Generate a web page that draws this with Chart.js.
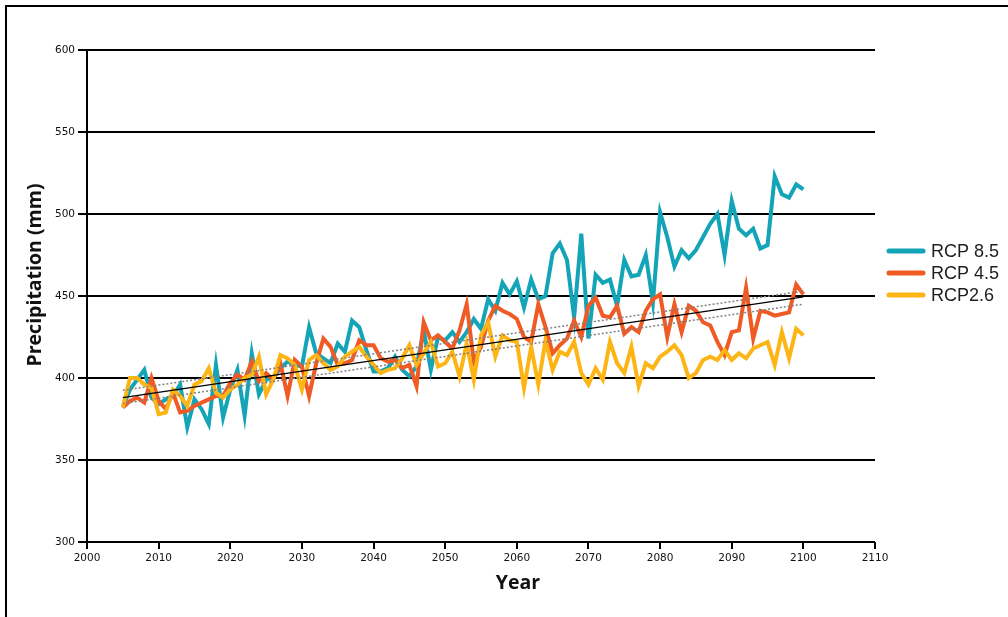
<!DOCTYPE html>
<html>
<head>
<meta charset="utf-8">
<title>Precipitation projections</title>
<script src="https://cdn.jsdelivr.net/npm/chart.js@4.4.1/dist/chart.umd.min.js"></script>
<style>
  html, body { margin: 0; padding: 0; background: #fff; }
  #wrap { position: relative; width: 1008px; height: 617px; overflow: hidden; }
  #wrap canvas { position: absolute; left: 0; top: 0; }
  #frame { position: absolute; left: 5px; top: 5px; width: 1200px; height: 800px;
           border-left: 2.5px solid #000; border-top: 2.5px solid #000; pointer-events: none; }
</style>
</head>
<body>
<div id="wrap">
  <canvas id="chart" width="1008" height="617"></canvas>
  <div id="frame"></div>
</div>
<script>
// Annual precipitation (mm), 2005-2100
const startYear = 2005;

const rcp85 = [
  382, 393, 399, 405, 388, 384, 387, 389, 396, 370,
  387, 381, 372, 408, 376, 393, 405, 377, 415, 390,
  399, 400, 406, 410, 408, 407, 431, 415, 412, 409,
  421, 416, 435, 431, 417, 404, 404, 406, 413, 405,
  401, 407, 429, 405, 425, 423, 428, 422, 428, 436,
  430, 448, 441, 458, 451, 459, 443, 460, 448, 450,
  476, 482, 472, 437, 488, 424, 463, 458, 460, 444,
  472, 462, 463, 475, 446, 501, 486, 468, 478, 473,
  478, 486, 494, 500, 475, 508, 491, 487, 491, 479,
  481, 523, 512, 510, 518, 515
];

const rcp45 = [
  382, 386, 388, 385, 400, 386, 381, 391, 379, 380,
  383, 385, 387, 389, 389, 397, 402, 399, 410, 398,
  403, 399, 409, 389, 411, 407, 389, 409, 424, 419,
  408, 409, 411, 423, 420, 420, 412, 410, 411, 406,
  408, 395, 434, 423, 426, 422, 418, 429, 445, 410,
  419, 435, 444, 441, 439, 436, 425, 422, 445, 431,
  415, 420, 424, 435, 425, 444, 449, 438, 437, 444,
  427, 431, 428, 441, 448, 451, 425, 445, 428, 444,
  441, 434, 432, 422, 414, 428, 429, 455, 424, 441,
  440, 438, 439, 440, 457, 451
];

const rcp26 = [
  382, 400, 400, 396, 394, 378, 379, 393, 389, 383,
  396, 398, 406, 391, 388, 393, 396, 400, 402, 413,
  390, 399, 414, 412, 408, 393, 411, 414, 409, 405,
  407, 413, 416, 419, 413, 408, 403, 405, 406, 412,
  420, 408, 415, 422, 407, 409, 416, 401, 421, 399,
  426, 434, 413, 426, 423, 422, 394, 419, 396, 423,
  405, 416, 414, 422, 403, 396, 406, 399, 422, 409,
  403, 419, 395, 409, 406, 413, 416, 420, 414, 400,
  403, 411, 413, 411, 417, 411, 415, 412, 418, 420,
  422, 408, 428, 412, 430, 426
];

// Linear trend and its dotted bounds (value at 2005 and at 2100)
const trendYears = [2005, 2100];
const trendMid   = [388, 449.5];
const trendUpper = [392.5, 453];
const trendLower = [384.5, 445];

const yTicks = [300, 350, 400, 450, 500, 550, 600];

const toPoints = vals => vals.map((v, i) => ({ x: startYear + i, y: v }));
const toTrend = vals => trendYears.map((yr, i) => ({ x: yr, y: vals[i] }));

const seriesStyle = (label, color, order) => ({
  label, borderColor: color, backgroundColor: color,
  borderWidth: 4, pointRadius: 0, tension: 0, order, inLegend: true
});

// Legend drawn on the right beside the plot
const sideLegend = {
  id: 'sideLegend',
  afterDraw(chart) {
    const ctx = chart.ctx;
    const rows = chart.data.datasets.filter(d => d.inLegend);
    ctx.save();
    rows.forEach((d, i) => {
      const y = 251 + i * 22;
      ctx.strokeStyle = d.borderColor;
      ctx.lineWidth = 5;
      ctx.lineCap = 'round';
      ctx.beginPath();
      ctx.moveTo(889, y);
      ctx.lineTo(923, y);
      ctx.stroke();
      ctx.fillStyle = '#1e1e1e';
      ctx.font = '18px "Liberation Sans", Arial, sans-serif';
      ctx.textBaseline = 'middle';
      ctx.textAlign = 'left';
      ctx.fillText(d.label, 931, y + 1);
    });
    ctx.restore();
  }
};

// Axis titles
const axisTitles = {
  id: 'axisTitles',
  afterDraw(chart) {
    const ctx = chart.ctx;
    ctx.save();
    ctx.fillStyle = '#111';
    ctx.font = 'bold 19.5px "Open Sans", Lato, sans-serif';
    ctx.textAlign = 'center';
    ctx.textBaseline = 'middle';
    ctx.fillText('Year', 518, 583);
    ctx.translate(35, 275);
    ctx.rotate(-Math.PI / 2);
    ctx.fillText('Precipitation (mm)', 0, 0);
    ctx.restore();
  }
};

const tickFont = { family: '"DejaVu Sans", Verdana, sans-serif', size: 10.5 };

new Chart(document.getElementById('chart'), {
  type: 'line',
  data: {
    datasets: [
      Object.assign({ data: toPoints(rcp85) }, seriesStyle('RCP 8.5', '#13a4b8', 4)),
      Object.assign({ data: toPoints(rcp45) }, seriesStyle('RCP 4.5', '#f05a24', 3)),
      Object.assign({ data: toPoints(rcp26) }, seriesStyle('RCP2.6', '#fdb515', 2)),
      { label: 'Trend', data: toTrend(trendMid), borderColor: '#000', borderWidth: 1.2,
        pointRadius: 0, order: 0 },
      { label: 'Upper', data: toTrend(trendUpper), borderColor: '#808080', borderWidth: 1.5,
        borderDash: [2, 2], pointRadius: 0, order: 1 },
      { label: 'Lower', data: toTrend(trendLower), borderColor: '#808080', borderWidth: 1.5,
        borderDash: [2, 2], pointRadius: 0, order: 1 }
    ]
  },
  options: {
    responsive: false,
    animation: false,
    devicePixelRatio: 1,
    layout: { padding: { left: 0, top: 50, right: 133, bottom: 0 } },
    plugins: { legend: { display: false }, tooltip: { enabled: false } },
    scales: {
      x: {
        type: 'linear', min: 2000, max: 2110,
        afterFit: s => { s.height = 75; },
        border: { display: false },
        grid: { drawOnChartArea: false, drawTicks: true, tickLength: 7, color: '#000', lineWidth: 2 },
        ticks: { stepSize: 10, color: '#111', font: tickFont, padding: 3, maxRotation: 0,
                 callback: v => String(v) }
      },
      y: {
        min: 300, max: 600,
        afterFit: s => { s.width = 87; },
        afterBuildTicks: s => { s.ticks = yTicks.map(v => ({ value: v })); },
        border: { display: true, color: '#000', width: 2 },
        grid: { drawOnChartArea: true, drawTicks: true, tickLength: 9, color: '#000', lineWidth: 2 },
        ticks: { color: '#111', font: tickFont, padding: 3 }
      }
    }
  },
  plugins: [sideLegend, axisTitles]
});
</script>
</body>
</html>
